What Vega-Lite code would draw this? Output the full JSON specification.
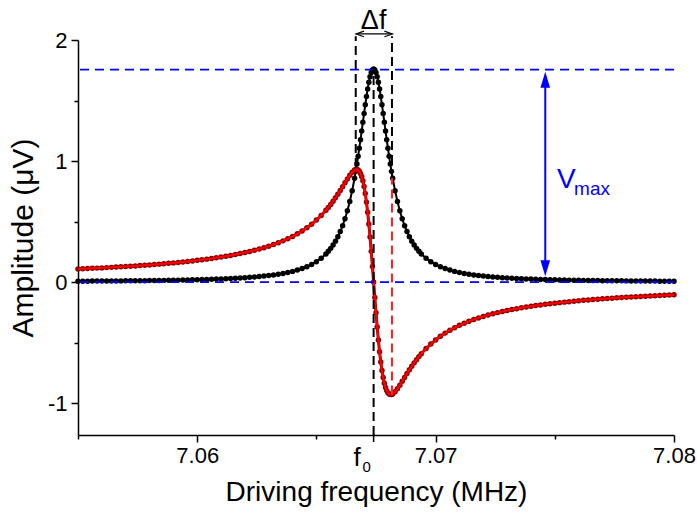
{
  "$schema": "https://vega.github.io/schema/vega-lite/v6.json",
  "width": 596,
  "height": 395,
  "autosize": "none",
  "padding": {"left": 78, "top": 40, "right": 23, "bottom": 81},
  "background": "white",
  "config": {
    "font": "Liberation Sans",
    "view": {"stroke": null},
    "axis": {"grid": false, "domainColor": "black", "domainWidth": 1.5, "tickColor": "black", "tickWidth": 1.5, "labelColor": "black", "titleColor": "black", "labelFontSize": 22, "titleFontSize": 28, "titleFontWeight": "normal"}
  },
  "layer": [
    {
      "data": {"name": "main", "values": [
        {"f":7.0550,"amp":0.0069,"re":0.1076},{"f":7.0552,"amp":0.0072,"re":0.1094},{"f":7.0554,"amp":0.0074,"re":0.1112},{"f":7.0556,"amp":0.0077,"re":0.1131},{"f":7.0558,"amp":0.0079,"re":0.1150},{"f":7.0560,"amp":0.0082,"re":0.1170},{"f":7.0562,"amp":0.0085,"re":0.1191},{"f":7.0564,"amp":0.0088,"re":0.1212},{"f":7.0566,"amp":0.0091,"re":0.1234},{"f":7.0568,"amp":0.0095,"re":0.1258},{"f":7.0570,"amp":0.0099,"re":0.1282},{"f":7.0572,"amp":0.0102,"re":0.1306},{"f":7.0574,"amp":0.0106,"re":0.1332},{"f":7.0576,"amp":0.0111,"re":0.1359},{"f":7.0578,"amp":0.0115,"re":0.1387},{"f":7.0580,"amp":0.0120,"re":0.1416},{"f":7.0582,"amp":0.0126,"re":0.1447},{"f":7.0584,"amp":0.0131,"re":0.1479},{"f":7.0586,"amp":0.0137,"re":0.1512},{"f":7.0588,"amp":0.0144,"re":0.1546},{"f":7.0590,"amp":0.0151,"re":0.1583},{"f":7.0592,"amp":0.0158,"re":0.1621},{"f":7.0594,"amp":0.0166,"re":0.1661},{"f":7.0596,"amp":0.0174,"re":0.1702},{"f":7.0598,"amp":0.0184,"re":0.1746},{"f":7.0600,"amp":0.0194,"re":0.1793},{"f":7.0602,"amp":0.0204,"re":0.1842},{"f":7.0604,"amp":0.0216,"re":0.1893},{"f":7.0606,"amp":0.0228,"re":0.1948},{"f":7.0608,"amp":0.0242,"re":0.2005},{"f":7.0610,"amp":0.0258,"re":0.2066},{"f":7.0612,"amp":0.0274,"re":0.2131},{"f":7.0614,"amp":0.0293,"re":0.2200},{"f":7.0616,"amp":0.0313,"re":0.2274},{"f":7.0618,"amp":0.0335,"re":0.2353},{"f":7.0620,"amp":0.0360,"re":0.2437},{"f":7.0622,"amp":0.0387,"re":0.2527},{"f":7.0624,"amp":0.0418,"re":0.2624},{"f":7.0626,"amp":0.0453,"re":0.2729},{"f":7.0628,"amp":0.0492,"re":0.2842},{"f":7.0630,"amp":0.0536,"re":0.2964},{"f":7.0632,"amp":0.0587,"re":0.3098},{"f":7.0634,"amp":0.0645,"re":0.3243},{"f":7.0636,"amp":0.0711,"re":0.3402},{"f":7.0638,"amp":0.0789,"re":0.3577},{"f":7.0640,"amp":0.0880,"re":0.3770},{"f":7.0642,"amp":0.0987,"re":0.3983},{"f":7.0644,"amp":0.1114,"re":0.4221},{"f":7.0646,"amp":0.1267,"re":0.4487},{"f":7.0648,"amp":0.1453,"re":0.4784},{"f":7.0650,"amp":0.1682,"re":0.5120},{"f":7.0652,"amp":0.1964,"re":0.5499},{"f":7.0654,"amp":0.2321,"re":0.5928},
        {"f":7.0655,"amp":0.2538,"re":0.6163},{"f":7.0656,"amp":0.2782,"re":0.6414},{"f":7.0657,"amp":0.3061,"re":0.6680},{"f":7.0658,"amp":0.3380,"re":0.6961},{"f":7.0659,"amp":0.3746,"re":0.7256},{"f":7.0660,"amp":0.4169,"re":0.7565},{"f":7.0661,"amp":0.4659,"re":0.7883},{"f":7.0662,"amp":0.5227,"re":0.8206},{"f":7.0663,"amp":0.5889,"re":0.8523},{"f":7.0664,"amp":0.6658,"re":0.8820},{"f":7.0665,"amp":0.7549,"re":0.9073},
        {"f":7.0666,"amp":0.8577,"re":0.9249},{"f":7.06665,"amp":0.9145,"re":0.9292},{"f":7.0667,"amp":0.9749,"re":0.9296},{"f":7.06675,"amp":1.0387,"re":0.9252},{"f":7.0668,"amp":1.1057,"re":0.9148},{"f":7.06685,"amp":1.1755,"re":0.8973},{"f":7.0669,"amp":1.2474,"re":0.8714},{"f":7.06695,"amp":1.3205,"re":0.8360},{"f":7.0670,"amp":1.3935,"re":0.7896},{"f":7.06705,"amp":1.4650,"re":0.7314},{"f":7.0671,"amp":1.5332,"re":0.6604},{"f":7.06715,"amp":1.5961,"re":0.5763},{"f":7.0672,"amp":1.6514,"re":0.4796},{"f":7.06725,"amp":1.6973,"re":0.3714},{"f":7.0673,"amp":1.7316,"re":0.2534},{"f":7.06735,"amp":1.7528,"re":0.1285},
        {"f":7.0674,"amp":1.7600,"re":0.0},
        {"f":7.06745,"amp":1.7528,"re":-0.1285},{"f":7.0675,"amp":1.7316,"re":-0.2534},{"f":7.06755,"amp":1.6973,"re":-0.3714},{"f":7.0676,"amp":1.6514,"re":-0.4796},{"f":7.06765,"amp":1.5961,"re":-0.5763},{"f":7.0677,"amp":1.5332,"re":-0.6604},{"f":7.06775,"amp":1.4650,"re":-0.7314},{"f":7.0678,"amp":1.3935,"re":-0.7896},{"f":7.06785,"amp":1.3205,"re":-0.8360},{"f":7.0679,"amp":1.2474,"re":-0.8714},{"f":7.06795,"amp":1.1755,"re":-0.8973},{"f":7.0680,"amp":1.1057,"re":-0.9148},{"f":7.06805,"amp":1.0387,"re":-0.9252},{"f":7.0681,"amp":0.9749,"re":-0.9296},{"f":7.06815,"amp":0.9145,"re":-0.9292},{"f":7.0682,"amp":0.8577,"re":-0.9249},
        {"f":7.0683,"amp":0.7549,"re":-0.9073},{"f":7.0684,"amp":0.6658,"re":-0.8820},{"f":7.0685,"amp":0.5889,"re":-0.8523},{"f":7.0686,"amp":0.5227,"re":-0.8206},{"f":7.0687,"amp":0.4659,"re":-0.7883},{"f":7.0688,"amp":0.4169,"re":-0.7565},{"f":7.0689,"amp":0.3746,"re":-0.7256},{"f":7.0690,"amp":0.3380,"re":-0.6961},{"f":7.0691,"amp":0.3061,"re":-0.6680},{"f":7.0692,"amp":0.2782,"re":-0.6414},{"f":7.0693,"amp":0.2538,"re":-0.6163},
        {"f":7.0694,"amp":0.2321,"re":-0.5928},{"f":7.0696,"amp":0.1964,"re":-0.5499},{"f":7.0698,"amp":0.1682,"re":-0.5120},{"f":7.0700,"amp":0.1453,"re":-0.4784},{"f":7.0702,"amp":0.1267,"re":-0.4487},{"f":7.0704,"amp":0.1114,"re":-0.4221},{"f":7.0706,"amp":0.0987,"re":-0.3983},{"f":7.0708,"amp":0.0880,"re":-0.3770},{"f":7.0710,"amp":0.0789,"re":-0.3577},{"f":7.0712,"amp":0.0711,"re":-0.3402},{"f":7.0714,"amp":0.0645,"re":-0.3243},{"f":7.0716,"amp":0.0587,"re":-0.3098},{"f":7.0718,"amp":0.0536,"re":-0.2964},{"f":7.0720,"amp":0.0492,"re":-0.2842},{"f":7.0722,"amp":0.0453,"re":-0.2729},{"f":7.0724,"amp":0.0418,"re":-0.2624},{"f":7.0726,"amp":0.0387,"re":-0.2527},{"f":7.0728,"amp":0.0360,"re":-0.2437},{"f":7.0730,"amp":0.0335,"re":-0.2353},{"f":7.0732,"amp":0.0313,"re":-0.2274},{"f":7.0734,"amp":0.0293,"re":-0.2200},{"f":7.0736,"amp":0.0274,"re":-0.2131},{"f":7.0738,"amp":0.0258,"re":-0.2066},{"f":7.0740,"amp":0.0242,"re":-0.2005},{"f":7.0742,"amp":0.0228,"re":-0.1948},{"f":7.0744,"amp":0.0216,"re":-0.1893},{"f":7.0746,"amp":0.0204,"re":-0.1842},{"f":7.0748,"amp":0.0194,"re":-0.1793},{"f":7.0750,"amp":0.0184,"re":-0.1746},{"f":7.0752,"amp":0.0174,"re":-0.1702},{"f":7.0754,"amp":0.0166,"re":-0.1661},{"f":7.0756,"amp":0.0158,"re":-0.1621},{"f":7.0758,"amp":0.0151,"re":-0.1583},{"f":7.0760,"amp":0.0144,"re":-0.1546},{"f":7.0762,"amp":0.0137,"re":-0.1512},{"f":7.0764,"amp":0.0131,"re":-0.1479},{"f":7.0766,"amp":0.0126,"re":-0.1447},{"f":7.0768,"amp":0.0120,"re":-0.1416},{"f":7.0770,"amp":0.0115,"re":-0.1387},{"f":7.0772,"amp":0.0111,"re":-0.1359},{"f":7.0774,"amp":0.0106,"re":-0.1332},{"f":7.0776,"amp":0.0102,"re":-0.1306},{"f":7.0778,"amp":0.0099,"re":-0.1282},{"f":7.0780,"amp":0.0095,"re":-0.1258},{"f":7.0782,"amp":0.0091,"re":-0.1234},{"f":7.0784,"amp":0.0088,"re":-0.1212},{"f":7.0786,"amp":0.0085,"re":-0.1191},{"f":7.0788,"amp":0.0082,"re":-0.1170},{"f":7.0790,"amp":0.0079,"re":-0.1150},{"f":7.0792,"amp":0.0077,"re":-0.1131},{"f":7.0794,"amp":0.0074,"re":-0.1112},{"f":7.0796,"amp":0.0072,"re":-0.1094},{"f":7.0798,"amp":0.0069,"re":-0.1076},{"f":7.0800,"amp":0.0067,"re":-0.1059}
      ]},
      "mark": {"type": "line", "color": "black", "strokeWidth": 2, "point": {"filled": true, "size": 30, "color": "black"}},
      "encoding": {
        "x": {"field": "f", "type": "quantitative", "title": "Driving frequency (MHz)",
          "scale": {"domain": [7.055, 7.08], "nice": false, "zero": false},
          "axis": {"values": [7.055, 7.06, 7.065, 7.07, 7.075, 7.08],
            "labelExpr": "round(datum.value*1000) % 10 === 0 ? format(datum.value, '.2f') : ''",
            "tickSize": {"condition": {"test": "round(datum.value*1000) % 10 === 0", "value": 7}, "value": 4},
            "labelPadding": 3, "titlePadding": 12, "labelFlush": false}},
        "y": {"field": "amp", "type": "quantitative", "title": "Amplitude (μV)",
          "scale": {"domain": [-1.264, 2], "nice": false, "zero": false},
          "axis": {"values": [-1, -0.5, 0, 0.5, 1, 1.5, 2],
            "labelExpr": "datum.value === -1 ? '-1' : (datum.value % 1 === 0 ? format(datum.value, 'd') : '')",
            "tickSize": {"condition": {"test": "datum.value % 1 === 0", "value": 7}, "value": 4},
            "labelPadding": 4, "titlePadding": 9, "titleFontSize": 30, "labelFlush": false}}
      }
    },
    {
      "data": {"name": "main"},
      "mark": {"type": "line", "color": "#8e0000", "strokeWidth": 3, "point": {"filled": true, "size": 30, "color": "#8e0000"}},
      "encoding": {
        "x": {"field": "f", "type": "quantitative", "title": "Driving frequency (MHz)"},
        "y": {"field": "re", "type": "quantitative", "title": "Amplitude (μV)"}
      }
    },
    {
      "data": {"name": "main"},
      "mark": {"type": "line", "color": "#ff0000", "strokeWidth": 2},
      "encoding": {
        "x": {"field": "f", "type": "quantitative", "title": "Driving frequency (MHz)"},
        "y": {"field": "re", "type": "quantitative", "title": "Amplitude (μV)"}
      }
    },
    {
      "data": {"values": [{"v": 1.755}, {"v": 0}]},
      "mark": {"type": "rule", "color": "#0000ff", "strokeWidth": 1.8, "strokeDash": [9, 6]},
      "encoding": {
        "y": {"field": "v", "type": "quantitative", "title": "Amplitude (μV)"}
      }
    },
    {
      "data": {"values": [{"x": 7.06665, "y1": 0.95, "y2": 2.03}, {"x": 7.0674, "y1": -1.264, "y2": 1.76}, {"x": 7.06817, "y1": 0.86, "y2": 2.03}]},
      "mark": {"type": "rule", "color": "black", "strokeWidth": 2, "strokeDash": [9, 5]},
      "encoding": {
        "x": {"field": "x", "type": "quantitative", "title": "Driving frequency (MHz)"},
        "y": {"field": "y1", "type": "quantitative", "title": "Amplitude (μV)"},
        "y2": {"field": "y2"}
      }
    },
    {
      "data": {"values": [{"x": 7.06817, "y1": -0.93, "y2": 0.86}]},
      "mark": {"type": "rule", "color": "#ff2020", "strokeWidth": 2, "strokeDash": [9, 5]},
      "encoding": {
        "x": {"field": "x", "type": "quantitative", "title": "Driving frequency (MHz)"},
        "y": {"field": "y1", "type": "quantitative", "title": "Amplitude (μV)"},
        "y2": {"field": "y2"}
      }
    },
    {
      "data": {"values": [{"x": 7.0674, "y1": -1.264, "y2": -1.322}]},
      "mark": {"type": "rule", "color": "black", "strokeWidth": 1.5},
      "encoding": {
        "x": {"field": "x", "type": "quantitative", "title": "Driving frequency (MHz)"},
        "y": {"field": "y1", "type": "quantitative", "title": "Amplitude (μV)"},
        "y2": {"field": "y2"}
      }
    },
    {
      "data": {"values": [{"x": 7.0746, "y1": 0.1, "y2": 1.7}]},
      "mark": {"type": "rule", "color": "#0000ff", "strokeWidth": 2},
      "encoding": {
        "x": {"field": "x", "type": "quantitative", "title": "Driving frequency (MHz)"},
        "y": {"field": "y1", "type": "quantitative", "title": "Amplitude (μV)"},
        "y2": {"field": "y2"}
      }
    },
    {
      "data": {"values": [{"x": 7.0746, "y": 1.671}]},
      "mark": {"type": "point", "shape": "M0,-1L0.6,1L-0.6,1Z", "size": 256, "filled": true, "color": "#0000ff", "opacity": 1},
      "encoding": {
        "x": {"field": "x", "type": "quantitative", "title": "Driving frequency (MHz)"},
        "y": {"field": "y", "type": "quantitative", "title": "Amplitude (μV)"}
      }
    },
    {
      "data": {"values": [{"x": 7.0746, "y": 0.114}]},
      "mark": {"type": "point", "shape": "M0,1L0.6,-1L-0.6,-1Z", "size": 256, "filled": true, "color": "#0000ff", "opacity": 1},
      "encoding": {
        "x": {"field": "x", "type": "quantitative", "title": "Driving frequency (MHz)"},
        "y": {"field": "y", "type": "quantitative", "title": "Amplitude (μV)"}
      }
    },
    {
      "data": {"values": [{"x1": 7.06667, "x2": 7.06818, "y": 2.05}]},
      "mark": {"type": "rule", "color": "black", "strokeWidth": 1.2},
      "encoding": {
        "x": {"field": "x1", "type": "quantitative", "title": "Driving frequency (MHz)"},
        "x2": {"field": "x2"},
        "y": {"field": "y", "type": "quantitative", "title": "Amplitude (μV)"}
      }
    },
    {
      "data": {"values": [{"x": 7.06683, "y": 2.05}]},
      "mark": {"type": "point", "shape": "M1,-0.7L-1,0L1,0.7", "size": 64, "filled": false, "color": "black", "strokeWidth": 1.2, "opacity": 1},
      "encoding": {
        "x": {"field": "x", "type": "quantitative", "title": "Driving frequency (MHz)"},
        "y": {"field": "y", "type": "quantitative", "title": "Amplitude (μV)"}
      }
    },
    {
      "data": {"values": [{"x": 7.06802, "y": 2.05}]},
      "mark": {"type": "point", "shape": "M-1,-0.7L1,0L-1,0.7", "size": 64, "filled": false, "color": "black", "strokeWidth": 1.2, "opacity": 1},
      "encoding": {
        "x": {"field": "x", "type": "quantitative", "title": "Driving frequency (MHz)"},
        "y": {"field": "y", "type": "quantitative", "title": "Amplitude (μV)"}
      }
    },
    {
      "data": {"values": [{"x": 7.0674, "y": 2.095, "t": "Δf"}]},
      "mark": {"type": "text", "fontSize": 27, "align": "center", "baseline": "alphabetic", "color": "black"},
      "encoding": {
        "x": {"field": "x", "type": "quantitative", "title": "Driving frequency (MHz)"},
        "y": {"field": "y", "type": "quantitative", "title": "Amplitude (μV)"},
        "text": {"field": "t"}
      }
    },
    {
      "data": {"values": [{"x": 7.06671, "y": -1.52, "t": "f"}]},
      "mark": {"type": "text", "fontSize": 26, "align": "center", "baseline": "alphabetic", "color": "black"},
      "encoding": {
        "x": {"field": "x", "type": "quantitative", "title": "Driving frequency (MHz)"},
        "y": {"field": "y", "type": "quantitative", "title": "Amplitude (μV)"},
        "text": {"field": "t"}
      }
    },
    {
      "data": {"values": [{"x": 7.06711, "y": -1.57, "t": "0"}]},
      "mark": {"type": "text", "fontSize": 15, "align": "center", "baseline": "alphabetic", "color": "black"},
      "encoding": {
        "x": {"field": "x", "type": "quantitative", "title": "Driving frequency (MHz)"},
        "y": {"field": "y", "type": "quantitative", "title": "Amplitude (μV)"},
        "text": {"field": "t"}
      }
    },
    {
      "data": {"values": [{"x": 7.07509, "y": 0.78, "t": "V"}]},
      "mark": {"type": "text", "fontSize": 28, "align": "left", "baseline": "alphabetic", "color": "#0000ff"},
      "encoding": {
        "x": {"field": "x", "type": "quantitative", "title": "Driving frequency (MHz)"},
        "y": {"field": "y", "type": "quantitative", "title": "Amplitude (μV)"},
        "text": {"field": "t"}
      }
    },
    {
      "data": {"values": [{"x": 7.07581, "y": 0.722, "t": "max"}]},
      "mark": {"type": "text", "fontSize": 19, "align": "left", "baseline": "alphabetic", "color": "#0000ff"},
      "encoding": {
        "x": {"field": "x", "type": "quantitative", "title": "Driving frequency (MHz)"},
        "y": {"field": "y", "type": "quantitative", "title": "Amplitude (μV)"},
        "text": {"field": "t"}
      }
    }
  ]
}
